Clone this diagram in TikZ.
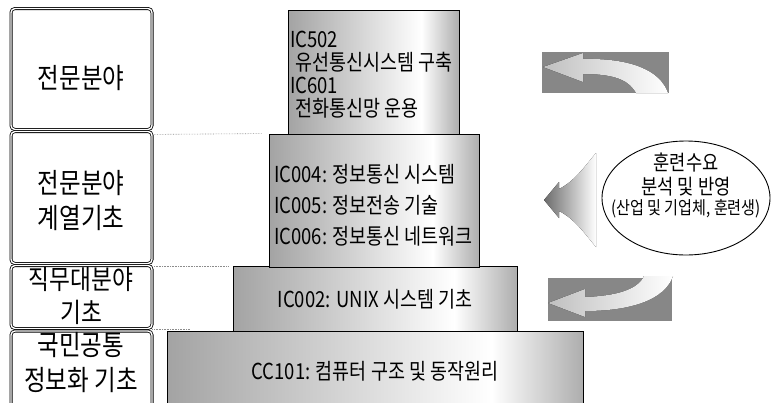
\documentclass[tikz,border=0pt]{standalone}
\usepackage{fontspec}
\newfontfamily\kr[FakeStretch=0.84]{Noto Sans CJK KR}
\usetikzlibrary{shapes.geometric}
\pgfdeclarehorizontalshading{tiershade}{100bp}{color(0bp)=(black!36); color(25bp)=(black!36); color(64bp)=(white); color(75bp)=(black!32); color(100bp)=(black!32)}
\tikzstyle{tier} = [draw, rectangle, line width=0.8pt, shade, shading=tiershade, inner sep=0pt,
   font=\kr\fontsize{22}{24}\selectfont]
\tikzstyle{tiertext} = [font=\kr\fontsize{22}{23}\selectfont, align=left, anchor=west, inner sep=0pt]
\tikzstyle{levelbox} = [draw, rectangle, rounded corners=4pt, line width=0.8pt, double,
   double distance=1.4pt, minimum width=141pt, inner sep=0pt]
\tikzstyle{levellabel} = [font=\kr\fontsize{28}{35}\selectfont, align=center, inner sep=0pt]
\tikzstyle{guide} = [densely dotted, black!45, line width=0.6pt]
\tikzstyle{feedbox} = [fill=black!47, rectangle, inner sep=0pt]
\tikzstyle{feedarrow} = [left color=black!25, right color=white]

\begin{document}
\begin{tikzpicture}[x=1pt, y=-1pt]
  \path[use as bounding box, clip] (0,0) rectangle (771,402);

  % levels on the left
  \node[levelbox, minimum height=121pt] (box1) at (81.5,69) {};
  \node[levelbox, minimum height=132pt] (box2) at (81.5,197.5) {};
  \node[levelbox, minimum height=63pt] (box3) at (81.5,297) {};
  \node[levelbox, minimum height=80pt] (box4) at (81.5,371) {};
  \node[levellabel] (lab1) at (81,78) {전문분야};
  \node[levellabel] (lab2) at (81,201) {전문분야\\계열기초};
  \node[levellabel, font=\kr\fontsize{27}{33}\selectfont] (lab3) at (81,296) {직무대분야\\기초};
  \node[levellabel] (lab4) at (81,363) {국민공통\\정보화 기초};

  % pyramid of courses
  \node[tier, minimum width=416pt, minimum height=80pt] (t4) at (375,371) {CC101: 컴퓨터 구조 및 동작원리};
  \node[tier, minimum width=284pt, minimum height=65pt] (t3) at (375,299) {IC002: UNIX 시스템 기초};
  \node[tier, minimum width=210pt, minimum height=133pt] (t2) at (374,200.5) {};
  \node[tier, minimum width=171pt, minimum height=124pt] (t1) at (373.5,72) {};
  \node[tiertext] (t1txt) at (290,75) {IC502\\\hspace*{5pt}유선통신시스템 구축\\IC601\\\hspace*{5pt}전화통신망 운용};
  \node[tiertext, font=\kr\fontsize{22}{31}\selectfont] (t2txt) at (274,205)
     {IC004: 정보통신 시스템\\IC005: 정보전송 기술\\IC006: 정보통신 네트워크};

  \draw[guide] (t1.south -| box2.east) -- ([xshift=-7pt]t2.north west);
  \draw[guide] (t3.north -| box3.east) -- ([xshift=-4pt]t3.north west);
  \draw[guide] ([yshift=1pt]t4.north -| box4.east) -- ([xshift=23pt,yshift=1pt]t4.north west);

  % feedback arrows
  \node[feedbox, minimum width=127pt, minimum height=41pt] (upbox) at (605.5,72.5) {};
  \node[feedbox, minimum width=124pt, minimum height=43pt] (lowbox) at (610,299.5) {};
  \fill[feedarrow] (543,67) -- (583,53) -- (583,59)
     .. controls (630,58) and (660,70) .. (668,93) -- (636,93)
     .. controls (628,78) and (610,74) .. (583,74) -- (583,82) -- cycle;
  \fill[feedarrow] (548,303) -- (585,289) -- (585,297)
     .. controls (615,296) and (638,290) .. (644,276) -- (673,276)
     .. controls (665,300) and (630,311) .. (585,311) -- (585,317) -- cycle;
  \fill[left color=black!58, right color=white] (544,200) -- (559,182) -- (559,189)
     .. controls (575,181) and (585,166) .. (596,153) -- (596,247)
     .. controls (585,234) and (575,219) .. (559,211) -- (559,218) -- cycle;

  % training needs
  \node[draw, ellipse, line width=0.9pt, minimum width=168pt, minimum height=114pt, inner sep=0pt] (needs) at (686,198) {};
  \node[align=center, inner sep=0pt, font=\kr\fontsize{21}{24}\selectfont] (needtxt) at (686,185)
     {훈련수요\\분석 및 반영\\[-4pt]{\fontsize{18}{20}\selectfont(산업 및 기업체, 훈련생)}};
\end{tikzpicture}
\end{document}
